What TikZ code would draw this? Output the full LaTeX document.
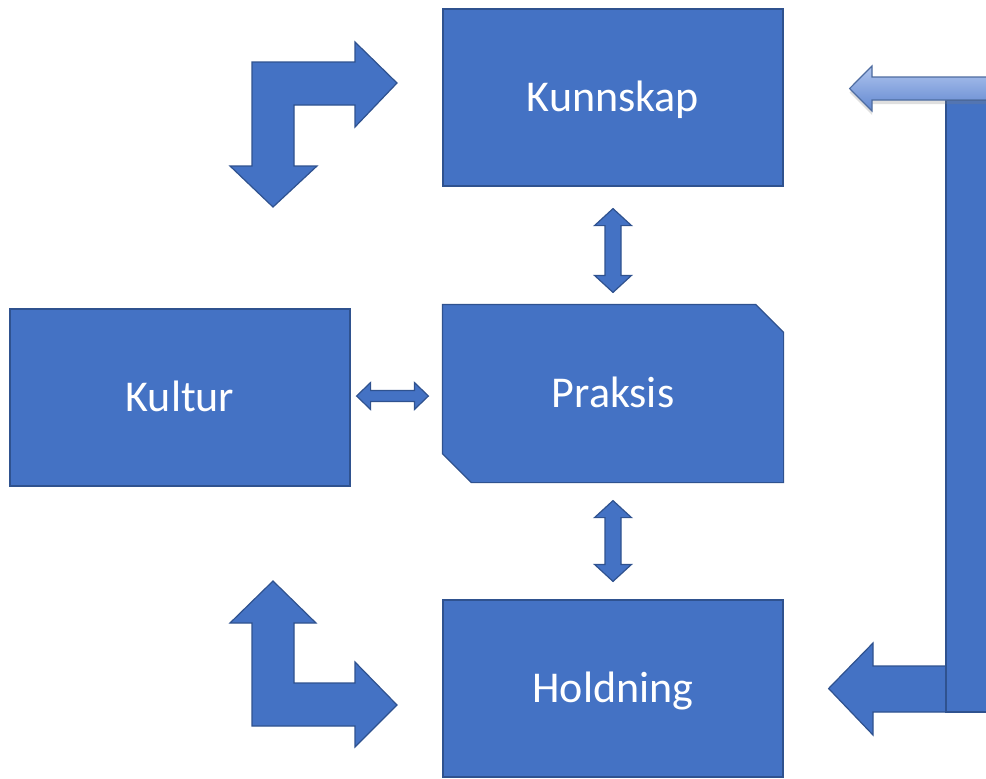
\documentclass[tikz,border=0pt]{standalone}
\usepackage{fontspec}
\setmainfont{Carlito}
\usepackage{xcolor}
\definecolor{boxblue}{HTML}{4472C4}
\definecolor{boxline}{HTML}{2F528F}
\definecolor{barlight}{HTML}{B0C5EE}
\definecolor{bardark}{HTML}{6187D0}
\usepackage{tikz}
\usetikzlibrary{calc, positioning, shadows, backgrounds}

\tikzset{
	blokk/.style={rectangle, fill=boxblue, draw=boxline, line width=0.6pt,
		minimum width=170pt, minimum height=88.5pt, inner sep=0pt,
		text=white, font=\fontsize{22}{26}\selectfont, text height=14.2pt, text depth=0pt},
	pil/.style={fill=boxblue, draw=boxline, line width=0.6pt, line join=miter},
}

\begin{document}
\begin{tikzpicture}[x=0.5pt, y=-0.5pt]

\useasboundingbox (0,0) rectangle (986,778);

% vertical double arrow, top tip #1, bottom tip #2
\newcommand{\vpil}[2]{
	\draw[pil] let \p1=(#1), \p2=(#2) in
		(\x1,\y1) -- (\x1+9.25pt,\y1-8.5pt) -- (\x1+4pt,\y1-8.5pt) -- (\x2+4pt,\y2+8.5pt)
		-- (\x2+9.25pt,\y2+8.5pt) -- (\x2,\y2) -- (\x2-9.25pt,\y2+8.5pt) -- (\x2-4pt,\y2+8.5pt)
		-- (\x1-4pt,\y1-8.5pt) -- (\x1-9.25pt,\y1-8.5pt) -- cycle;
}
% horizontal double arrow, left tip #1, right tip #2
\newcommand{\hpil}[2]{
	\draw[pil] let \p1=(#1), \p2=(#2) in
		(\x1,\y1) -- (\x1+7pt,\y1+6.75pt) -- (\x1+7pt,\y1+2.75pt) -- (\x2-7pt,\y2+2.75pt)
		-- (\x2-7pt,\y2+6.75pt) -- (\x2,\y2) -- (\x2-7pt,\y2-6.75pt) -- (\x2-7pt,\y2-2.75pt)
		-- (\x1+7pt,\y1-2.75pt) -- (\x1+7pt,\y1-6.75pt) -- cycle;
}

\node[blokk] (kunnskap) at (613, 97.5) {Kunnskap};
\node[blokk, fill=none, draw=none] (praksis) at (613, 393.5) {Praksis};
\node[blokk] (kultur) at (180, 397.5) {Kultur};
\node[blokk] (holdning) at (613, 688.5) {Holdning};

% praksis with two cut corners
\begin{scope}[on background layer]
\draw[pil] (praksis.north west) -- ($(praksis.north east)+(-28,0)$) -- ($(praksis.north east)+(0,28)$)
	-- (praksis.south east) -- ($(praksis.south west)+(29,0)$) -- ($(praksis.south west)+(0,-29)$) -- cycle;
\end{scope}

\coordinate (kp top) at ($(kunnskap.south)+(0,22)$);
\coordinate (kp bottom) at ($(praksis.north)+(0,-12)$);
\coordinate (ph top) at ($(praksis.south)+(0,18)$);
\coordinate (ph bottom) at ($(holdning.north)+(0,-18)$);
\coordinate (kk left) at ($(kultur.east)+(6,-1.5)$);
\coordinate (kk right) at ($(praksis.west |- kk left)+(-14,0)$);

\vpil{kp top}{kp bottom}; % kunnskap - praksis
\vpil{ph top}{ph bottom}; % praksis - holdning
\hpil{kk left}{kk right}; % kultur - praksis

% bent arrows on the left
\draw[pil] (252,166) -- (252,62) -- (355,62) -- (355,42) -- (397,83) -- (355,127) -- (355,105)
	-- (294,105) -- (294,166) -- (317,166) -- (273,207) -- (230,166) -- cycle;
\draw[pil] (252,623) -- (230,623) -- (273,581) -- (316,623) -- (294,623) -- (294,683) -- (355,683)
	-- (355,662) -- (397,705) -- (355,747) -- (355,726) -- (252,726) -- cycle;

% side bar with arrows back in
\coordinate (hold tip) at ($(holdning.east)+(45,0)$);
\coordinate (kunn tip) at ($(kunnskap.east)+(66,-9)$);
\draw[pil] (946,666) -- (873,666) -- (873,643) -- (hold tip) -- (873,735) -- (873,712) -- (946,712) -- cycle;
\draw[pil] (946,100) rectangle (1000,712);
\shade[top color=barlight, bottom color=bardark, draw=boxline!85, line width=0.6pt,
	drop shadow={shadow xshift=0pt, shadow yshift=-2pt, opacity=0.25}]
	(1000,77) -- (872,77) -- (872,66) -- (kunn tip) -- (872,111) -- (872,100) -- (1000,100) -- cycle;

\end{tikzpicture}
\end{document}
